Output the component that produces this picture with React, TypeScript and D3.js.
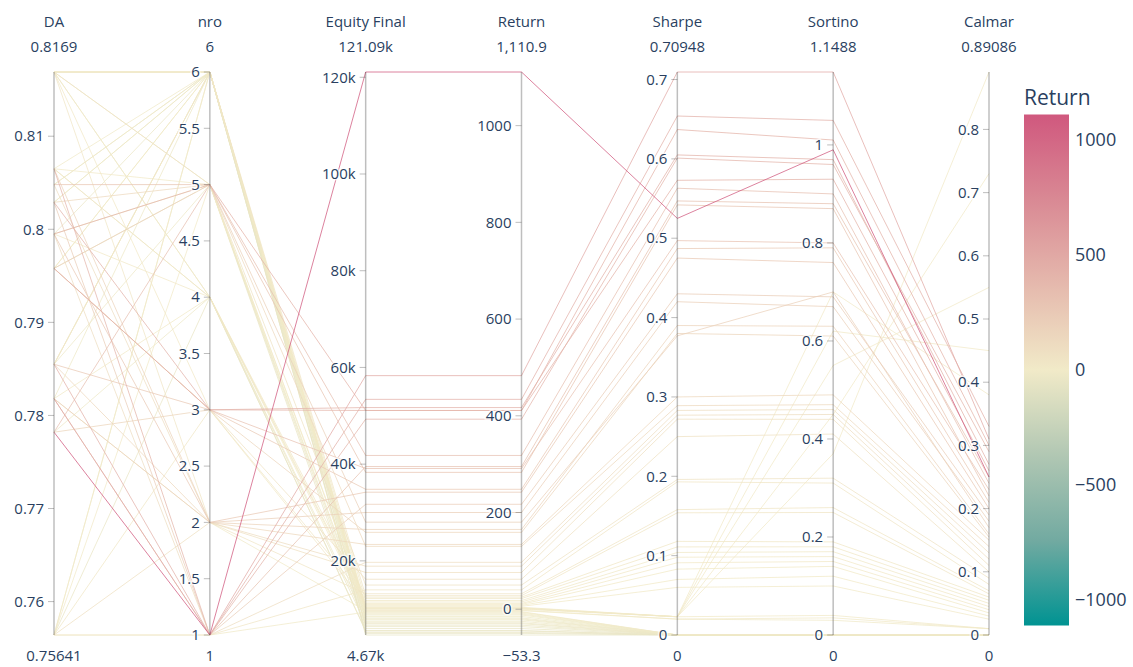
import React from 'react';
import * as d3 from 'd3';

const dimensionLabels = ['DA', 'nro', 'Equity Final', 'Return', 'Sharpe', 'Sortino', 'Calmar'];

const daValues = [
  0.7782, 0.7818, 0.7855, 0.8029, 0.7995, 0.7958, 0.8065, 0.7782, 0.7818, 0.7958,
  0.8048, 0.7855, 0.7995, 0.8029, 0.7818, 0.7958, 0.8065, 0.7782, 0.7855, 0.8029,
  0.7995, 0.8048, 0.75641, 0.7958, 0.8169, 0.75641, 0.8169, 0.7855, 0.8065, 0.75641,
  0.8169, 0.7995, 0.8169, 0.7818, 0.7958, 0.75641, 0.8169, 0.8065, 0.8169, 0.7855,
  0.75641, 0.8169, 0.8169, 0.8065, 0.8048, 0.8029, 0.7995, 0.7958, 0.7855, 0.7818,
  0.7782, 0.75641, 0.8169, 0.8065, 0.8029, 0.7995, 0.7958, 0.8169, 0.7855, 0.8048,
  0.75641, 0.8169, 0.7818, 0.75641,
];
const nroValues = [
  1, 1, 1, 3, 5, 3, 1, 5, 1, 3,
  5, 3, 2, 1, 2, 5, 2, 3, 2, 5,
  1, 2, 2, 3, 5, 1, 2, 6, 4, 3,
  6, 4, 3, 4, 6, 5, 6, 5, 4, 6,
  6, 6, 6, 6, 6, 6, 5, 6, 5, 6,
  4, 6, 5, 4, 6, 6, 5, 4, 6, 6,
  4, 6, 2, 1,
];
const equityValues = [
  121090, 58300, 53400, 51700, 51100, 51100, 49300, 41800, 39500, 39100,
  38300, 34800, 34200, 31700, 30000, 28000, 26500, 25900, 23400, 23000,
  19700, 18900, 17600, 16200, 15000, 14000, 13200, 12800, 12500, 12200,
  11800, 11500, 11200, 11000, 10800, 10600, 10400, 10300, 10200, 10200,
  10100, 10000, 9800, 9500, 9200, 9000, 8800, 8500, 8200, 8000,
  7800, 7500, 7200, 7000, 6700, 6400, 6000, 5600, 5200, 4670,
  5500, 5000, 9700, 9400,
];
const returnValues = [
  1110.9, 483, 434, 417, 411, 411, 393, 318, 295, 291,
  283, 248, 242, 217, 200, 180, 165, 159, 134, 130,
  97, 89, 76, 62, 50, 40, 32, 28, 25, 22,
  18, 15, 12, 10, 8, 6, 4, 3, 2, 2,
  1, 0, -2, -5, -8, -10, -12, -15, -18, -20,
  -22, -25, -28, -30, -33, -36, -40, -44, -48, -53.3,
  -45, -50, -3, -6,
];
const sharpeValues = [
  0.525, 0.70948, 0.654, 0.605, 0.637, 0.573, 0.601, 0.563, 0.547, 0.497,
  0.542, 0.487, 0.475, 0.43, 0.42, 0.377, 0.39, 0.38, 0.30, 0.289,
  0.283, 0.277, 0.272, 0.25, 0.196, 0.193, 0.158, 0.154, 0.118, 0.111,
  0.104, 0.098, 0.091, 0.083, 0.07, 0.06, 0.023, 0.023, 0.023, 0.023,
  0.023, 0.023, 0.02, 0, 0, 0, 0, 0, 0, 0,
  0, 0, 0, 0, 0, 0, 0, 0, 0, 0,
  0, 0, 0.02, 0,
];
const sortinoValues = [
  0.99, 1.1488, 1.05, 0.97, 1.01, 0.93, 0.96, 0.9, 0.88, 0.8,
  0.87, 0.79, 0.76, 0.69, 0.67, 0.7, 0.63, 0.61, 0.49, 0.47,
  0.46, 0.45, 0.44, 0.41, 0.32, 0.31, 0.26, 0.25, 0.19, 0.18,
  0.17, 0.16, 0.15, 0.14, 0.12, 0.1, 0.37, 0.45, 0.55, 0.62,
  0.7, 0.04, 0.035, 0, 0, 0, 0, 0, 0, 0,
  0, 0, 0, 0, 0, 0, 0, 0, 0, 0,
  0, 0, 0.03, 0,
];
const calmarValues = [
  0.25, 0.31, 0.33, 0.27, 0.3, 0.26, 0.29, 0.24, 0.25, 0.23,
  0.22, 0.21, 0.2, 0.19, 0.18, 0.17, 0.16, 0.155, 0.15, 0.14,
  0.13, 0.12, 0.11, 0.1, 0.09, 0.08, 0.07, 0.065, 0.06, 0.055,
  0.05, 0.045, 0.04, 0.035, 0.03, 0.025, 0.89086, 0.73, 0.55, 0.45,
  0.38, 0.01, 0.01, 0, 0, 0, 0, 0, 0, 0,
  0, 0, 0, 0, 0, 0, 0, 0, 0, 0,
  0, 0, 0.01, 0,
];

const tickValues = [
  [0.76, 0.77, 0.78, 0.79, 0.8, 0.81],
  [1, 1.5, 2, 2.5, 3, 3.5, 4, 4.5, 5, 5.5, 6],
  [20000, 40000, 60000, 80000, 100000, 120000],
  [0, 200, 400, 600, 800, 1000],
  [0, 0.1, 0.2, 0.3, 0.4, 0.5, 0.6, 0.7],
  [0, 0.2, 0.4, 0.6, 0.8, 1],
  [0, 0.1, 0.2, 0.3, 0.4, 0.5, 0.6, 0.7, 0.8],
];
const tickLabels = [
  ['0.76', '0.77', '0.78', '0.79', '0.8', '0.81'],
  ['1', '1.5', '2', '2.5', '3', '3.5', '4', '4.5', '5', '5.5', '6'],
  ['20k', '40k', '60k', '80k', '100k', '120k'],
  ['0', '200', '400', '600', '800', '1000'],
  ['0', '0.1', '0.2', '0.3', '0.4', '0.5', '0.6', '0.7'],
  ['0', '0.2', '0.4', '0.6', '0.8', '1'],
  ['0', '0.1', '0.2', '0.3', '0.4', '0.5', '0.6', '0.7', '0.8'],
];
const rangeTopLabels = ['0.8169', '6', '121.09k', '1,110.9', '0.70948', '1.1488', '0.89086'];
const rangeBottomLabels = ['0.75641', '1', '4.67k', '\u221253.3', '0', '0', '0'];

const colorbarTicks = [1000, 500, 0, -500, -1000];
const colorbarTickLabels = ['1000', '500', '0', '\u2212500', '\u22121000'];
const tealrose = ['#009392', '#72aaa1', '#b1c7b3', '#f1eac8', '#e5b9ad', '#d98994', '#d0587e'];

export default function App() {
  const width = 1133;
  const height = 667;
  const top = 72;
  const bottom = 635;
  const xScale = d3.scalePoint<number>().domain(d3.range(7)).range([54, 989]);
  const columns = [daValues, nroValues, equityValues, returnValues, sharpeValues, sortinoValues, calmarValues];
  const yScales = columns.map((c) => {
    const ext = d3.extent(c) as [number, number];
    return d3.scaleLinear().domain(ext).range([bottom, top]);
  });

  const cmax = d3.max(returnValues.map(Math.abs)) as number;
  const colorDomain = d3.range(tealrose.length).map((i) => -cmax + (2 * cmax * i) / (tealrose.length - 1));
  const color = d3.scaleLinear<string>().domain(colorDomain).range(tealrose).interpolate(d3.interpolateRgb);

  const order = d3.range(returnValues.length).sort((a, b) => returnValues[a] - returnValues[b]);
  const line = d3.line<[number, number]>();

  const cbTop = 114.5;
  const cbBottom = 625.5;
  const cbX = 1024;
  const cbW = 45;
  const cbScale = d3.scaleLinear().domain([-cmax, cmax]).range([cbBottom, cbTop]);

  const font = '"Open Sans", "Noto Sans", sans-serif';
  const textColor = '#2a3f5f';

  return (
    <svg width={width} height={height} style={{ position: 'absolute', left: 0, top: 0, background: '#fff' }}>
      <defs>
        <linearGradient id="cbgrad" x1="0" y1="1" x2="0" y2="0">
          {tealrose.map((c, i) => (
            <stop key={i} offset={`${(i / (tealrose.length - 1)) * 100}%`} stopColor={c} />
          ))}
        </linearGradient>
      </defs>
      <g>
        {order.map((i) => {
          const pts = columns.map((c, j) => [xScale(j) as number, yScales[j](c[i])] as [number, number]);
          return (
            <path
              key={i}
              d={line(pts) as string}
              fill="none"
              stroke={color(returnValues[i])}
              strokeWidth={1}
              strokeOpacity={0.75}
            />
          );
        })}
      </g>
      {dimensionLabels.map((name, j) => {
        const x = xScale(j) as number;
        const y = yScales[j];
        return (
          <g key={name} fontFamily={font} fill={textColor}>
            <line x1={x} x2={x} y1={top} y2={bottom} stroke="#444" strokeOpacity={0.35} strokeWidth={1.5} />
            {tickValues[j].map((t, k) => (
              <g key={k}>
                <line x1={x - 6} x2={x} y1={y(t)} y2={y(t)} stroke="#444" strokeOpacity={0.35} strokeWidth={1} />
                <text
                  x={x - 10}
                  y={y(t)}
                  dy="0.35em"
                  textAnchor="end"
                  fontSize={15}
                  stroke="#fff"
                  strokeWidth={3}
                  strokeOpacity={0.7}
                  style={{ paintOrder: 'stroke' }}
                >
                  {tickLabels[j][k]}
                </text>
              </g>
            ))}
            <text x={x} y={27} textAnchor="middle" fontSize={15}>{name}</text>
            <text x={x} y={52} textAnchor="middle" fontSize={15}>{rangeTopLabels[j]}</text>
            <text x={x} y={661} textAnchor="middle" fontSize={15}>{rangeBottomLabels[j]}</text>
          </g>
        );
      })}
      <g fontFamily={font} fill={textColor}>
        <text x={cbX} y={105} fontSize={21}>Return</text>
        <rect x={cbX} y={cbTop} width={cbW} height={cbBottom - cbTop} fill="url(#cbgrad)" />
        {colorbarTicks.map((t, k) => (
          <text key={k} x={cbX + cbW + 6} y={cbScale(t)} dy="0.35em" fontSize={18}>
            {colorbarTickLabels[k]}
          </text>
        ))}
      </g>
    </svg>
  );
}
